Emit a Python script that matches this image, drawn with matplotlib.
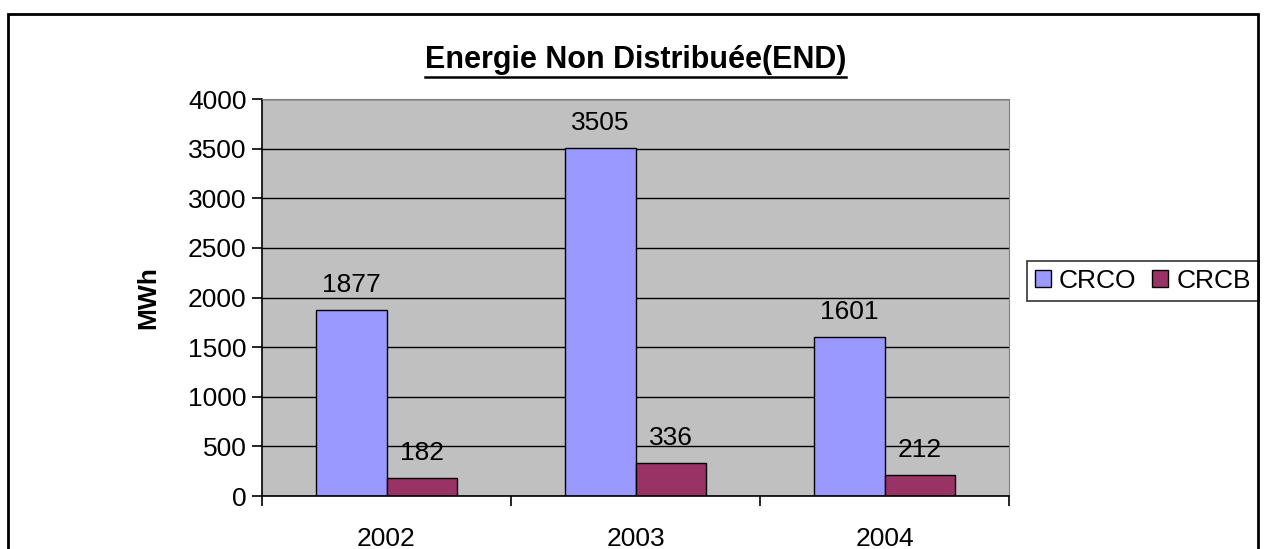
import matplotlib.pyplot as plt
from matplotlib.patches import Rectangle
import numpy as np

plt.rcParams['font.family'] = ['Liberation Sans', 'DejaVu Sans']

years = ['2002', '2003', '2004']
crco = [1877, 3505, 1601]
crcb = [182, 336, 212]

fig = plt.figure(figsize=(12.65, 5.49), dpi=100)
ax = fig.add_axes([262 / 1265, 1 - 496 / 549, 747 / 1265, 397 / 549])
ax.set_facecolor('#C0C0C0')

x = np.arange(len(years))
w = 0.285
b1 = ax.bar(x - w / 2, crco, w, color='#9999FF', edgecolor='black', linewidth=1, label='CRCO', zorder=2)
b2 = ax.bar(x + w / 2, crcb, w, color='#993366', edgecolor='black', linewidth=1, label='CRCB', zorder=2)

for bars, vals in ((b1, crco), (b2, crcb)):
    for r, v in zip(bars, vals):
        ax.annotate(str(v), (r.get_x() + r.get_width() / 2, v), xytext=(0, 18),
                    textcoords='offset points', ha='center', va='center',
                    fontsize=19, zorder=5)

ax.set_xlim(-0.5, 2.5)
ax.set_ylim(0, 4000)
ax.set_yticks(range(0, 4001, 500))
ax.yaxis.grid(True, color='black', linewidth=1, zorder=1)
ax.set_axisbelow(True)

ax.set_xticks(x)
ax.set_xticklabels(years)
ax.set_xticks([-0.5, 0.5, 1.5, 2.5], minor=True)
ax.tick_params(axis='x', which='major', length=0, pad=22, labelsize=19)
ax.tick_params(axis='x', which='minor', length=7, width=1.2, direction='out')
ax.tick_params(axis='y', length=7, width=1.2, labelsize=19, pad=4)

ax.spines['left'].set_linewidth(1.2)
ax.spines['bottom'].set_linewidth(1.2)
ax.spines['top'].set_color('#808080')
ax.spines['right'].set_color('#808080')

ax.set_ylabel('MWh', fontsize=19, fontweight='bold', labelpad=20)
ax.set_title('Energie Non Distribuée(END)', fontsize=22, fontweight='bold', pad=22)

leg = ax.legend(loc='center', bbox_to_anchor=(1143 / 1265, 1 - 281 / 549),
                bbox_transform=fig.transFigure, ncol=2, fontsize=19,
                frameon=True, fancybox=False, edgecolor='black',
                handlelength=0.6, handleheight=0.6, handletextpad=0.3,
                columnspacing=0.6, borderpad=0.3, borderaxespad=0)
leg.get_frame().set_linewidth(1.2)

fig.patches.append(Rectangle((8 / 1265, -0.1), 1250 / 1265, 1.1 - 14 / 549,
                             transform=fig.transFigure, fill=False,
                             edgecolor='black', linewidth=2, clip_on=False))

fig.canvas.draw()
bb = ax.title.get_window_extent()
fig.add_artist(plt.Line2D([bb.x0 / 1265, bb.x1 / 1265], [(bb.y0 - 2) / 549] * 2,
                          color='black', linewidth=1.8, transform=fig.transFigure))

fig.savefig('out.png', dpi=100)
